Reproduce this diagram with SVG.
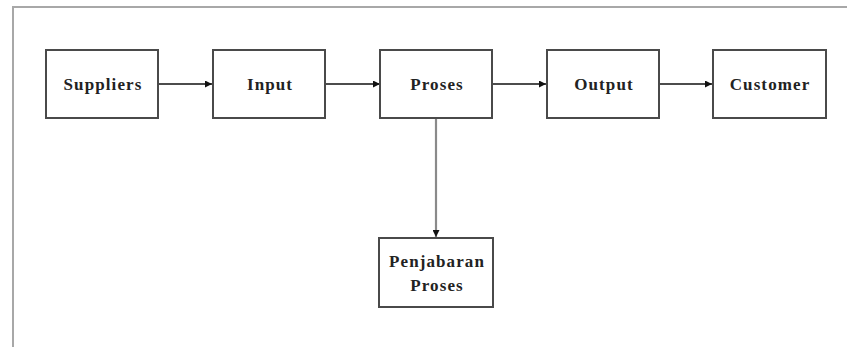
<svg xmlns="http://www.w3.org/2000/svg" width="847" height="347" viewBox="0 0 847 347">
<defs>
<style>
.box{fill:#fff;stroke:#4a4a4a;stroke-width:2}
.lbl{font-family:"Liberation Serif","Times New Roman",serif;font-weight:bold;font-size:17px;letter-spacing:1.1px;fill:#222;text-anchor:middle}
.conn{stroke:#111;stroke-width:1.5;fill:none;marker-end:url(#ah)}
.vconn{stroke:#8a8a8a;stroke-width:2.2;fill:none;marker-end:url(#ah)}
.frame{stroke:#a8a8a8;stroke-width:2;fill:none}
</style>
<marker id="ah" viewBox="0 0 10 10" refX="10" refY="5" markerWidth="8" markerHeight="7" markerUnits="userSpaceOnUse" orient="auto">
<path d="M0,0 L10,5 L0,10 z" fill="#111"/>
</marker>
</defs>
<rect width="847" height="347" fill="#fff"/>
<path class="frame" d="M13,347 L13,7 L847,7"/>
<g id="connectors">
<line class="conn" x1="158" y1="84" x2="212" y2="84"/>
<line class="conn" x1="325" y1="84" x2="380" y2="84"/>
<line class="conn" x1="492" y1="84" x2="546" y2="84"/>
<line class="conn" x1="659" y1="84" x2="712" y2="84"/>
<line class="vconn" x1="436" y1="118" x2="436" y2="237"/>
</g>
<g id="suppliers"><rect class="box" x="46" y="50" width="112" height="68"/><text class="lbl" x="103" y="90">Suppliers</text></g>
<g id="input"><rect class="box" x="213" y="50" width="112" height="68"/><text class="lbl" x="270" y="90">Input</text></g>
<g id="proses"><rect class="box" x="380" y="50" width="112" height="68"/><text class="lbl" x="437" y="90">Proses</text></g>
<g id="output"><rect class="box" x="547" y="50" width="112" height="68"/><text class="lbl" x="604" y="90">Output</text></g>
<g id="customer"><rect class="box" x="713" y="50" width="113" height="68"/><text class="lbl" x="770" y="90">Customer</text></g>
<g id="penjabaran"><rect class="box" x="379" y="238" width="114" height="69"/><text class="lbl" x="437" y="267">Penjabaran</text><text class="lbl" x="437" y="291">Proses</text></g>
</svg>
